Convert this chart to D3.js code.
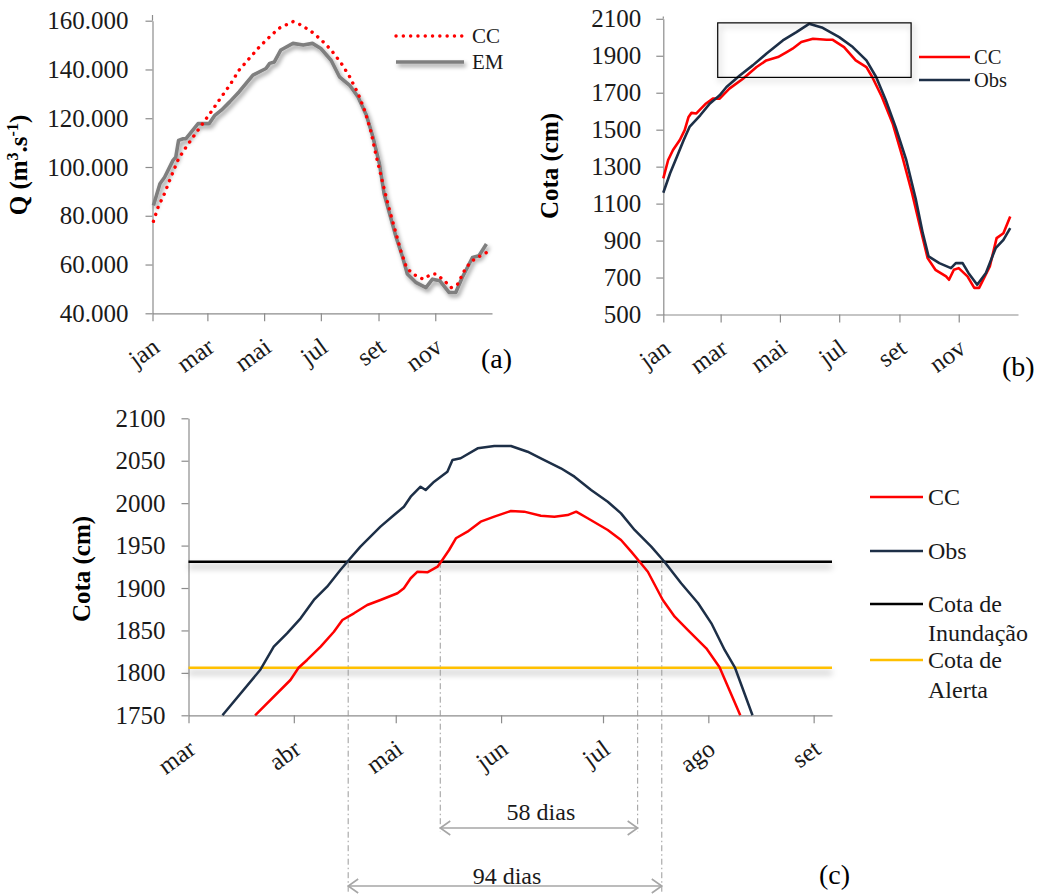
<!DOCTYPE html>
<html><head><meta charset="utf-8">
<script src="https://cdn.jsdelivr.net/npm/d3@7"></script>
<style>
body{margin:0;background:#fff}
svg{display:block}
text{font-family:"Liberation Serif","Times New Roman",serif}
</style></head>
<body><svg id="c" width="1049" height="896"></svg>
<script>
// ---------- DATA ----------
// Panel (a): vazão (m3/s), x = dia do ano
const monthsA = ["jan","mar","mai","jul","set","nov"];
const monthDaysA = [0,59,120,181,243,304];
const ticksA = [40000,60000,80000,100000,120000,140000,160000];
const ccA_day = [1,6,13,19,28,36,45,54,63,74,83,93,104,115,126,136,151,160,171,181,192,203,212,221,228,235,240,246,253,260,267,273,280,291,300,305,314,321,328,337,346,359];
const ccA_q = [77700,83500,89200,95100,103400,108100,113000,117800,122600,128700,133500,139700,144500,149300,153400,156900,159600,158200,155500,152300,148000,142500,137000,130100,123300,114300,105400,95800,84900,75200,65600,58800,56100,54000,56100,56100,53300,50500,51900,58800,62200,64900];
const emA_day = [1,8,13,22,25,28,33,36,49,61,67,74,83,93,108,122,126,131,138,151,162,172,181,192,201,212,221,230,237,244,249,255,262,269,274,283,294,301,309,319,326,333,344,351,359];
const emA_q = [84200,93100,95800,102700,104000,110900,111600,111600,117800,117800,121200,123300,126700,130800,137700,140400,142500,143100,148000,150700,150000,150700,148600,143800,137000,133500,128700,121200,112300,101300,89000,80700,71100,62900,56100,52700,50500,54000,53300,48500,48500,54700,62900,63600,68400];

// Panel (b): cota (cm)
const ticksB = [500,700,900,1100,1300,1500,1700,1900,2100];
const obsB_day = [0,7,14,21,27,38,48,58,65,79,92,106,123,137,150,164,181,195,209,219,229,239,250,260,267,273,284,296,301,308,314,323,332,342,350,357];
const obsB_cota = [1159,1264,1354,1444,1515,1578,1642,1686,1731,1794,1848,1911,1983,2028,2073,2051,2001,1947,1875,1785,1659,1515,1336,1120,940,814,778,751,778,778,725,661,725,859,904,967];
const ccB_day = [0,5,10,17,22,26,29,34,44,51,58,68,82,96,106,118,127,133,142,154,168,174,186,198,209,215,225,236,246,256,265,272,280,291,294,299,304,313,320,325,336,343,350,357];
const ccB_cota = [1237,1336,1390,1444,1498,1569,1591,1588,1642,1668,1668,1722,1776,1839,1875,1893,1920,1938,1974,1992,1987,1987,1947,1875,1839,1785,1677,1534,1354,1156,958,805,742,706,688,742,751,706,644,644,760,913,940,1030];
const zoomBox = {d0:56, d1:255, c0:1783, c1:2078};

// Panel (c): zoom mar-set
const monthsC = ["mar","abr","mai","jun","jul","ago","set"];
const monthDaysC = [59,90,120,151,181,212,243];
const ticksC = [1750,1800,1850,1900,1950,2000,2050,2100];
const obsC_day = [69,80.2,84.1,88,92,95.9,99.8,103.7,106.2,109.6,115.5,119.5,122.4,124.4,127.3,128.8,131.3,135.2,136.7,139.1,144.1,149,153.9,158.8,162.7,168.6,172.6,177.5,182.4,186.3,190.3,195.2,198.9,204,209,212.9,216.8,219.8,225];
const obsC_cota = [1750,1804,1831,1846.6,1864.3,1885.9,1901.6,1921.2,1933,1948.7,1972.3,1986,1995.8,2007.6,2019.4,2015.5,2025.3,2037.1,2050.9,2052.9,2064.6,2067.4,2067.4,2060.6,2052.9,2041.1,2031.2,2015.5,2001.7,1988,1968.4,1948.7,1931.8,1905.6,1882,1858.4,1827,1806.6,1750];
const ccC_day = [78.6,89,91.4,93.9,97.9,101.8,104.3,107.7,111.6,115.5,120.5,122.4,124.4,126.4,129.3,132.3,133.7,135.7,137.7,141.1,145,149,153.9,157.8,162.7,166.7,170.6,173.1,176.5,182.4,186.3,189.3,191.6,194.2,198.6,202.1,206,211.4,215.3,221.4];
const ccC_cota = [1750,1791.6,1806,1815.2,1830.9,1848.5,1862.3,1870.2,1880,1885.9,1893.8,1899.7,1911.5,1919.2,1918.5,1925.1,1933,1944.8,1958.6,1966.4,1978.2,1984.1,1990.8,1990,1985.2,1984.1,1986,1990,1982.2,1968.4,1956.6,1942.8,1931.8,1919.2,1885.9,1866.2,1850.5,1829,1806.6,1750];
const cotaInundacao = 1931;
const cotaAlerta = 1806;
const crossObs = [106, 198.3];
const crossCC = [133.1, 191.2];
const spanLabels = ["58 dias","94 dias"];
const legendC = [["CC"],["Obs"],["Cota de","Inundação"],["Cota de","Alerta"]];

// ---------- STYLE ----------
const RED="#ff0000", NAVY="#1d2f47", GRAY="#7f7f7f", AX="#8c8c8c", TXT="#1a1a1a", ORANGE="#ffc000";
const FONT = "Liberation Serif, Times New Roman, serif";
const svg = d3.select("#c");
const defs = svg.append("defs");
function shadow(id, dx, dy, sd, op){
  const f = defs.append("filter").attr("id",id).attr("filterUnits","userSpaceOnUse")
    .attr("x",0).attr("y",0).attr("width",1049).attr("height",896);
  f.append("feDropShadow").attr("dx",dx).attr("dy",dy).attr("stdDeviation",sd)
    .attr("flood-color","#000").attr("flood-opacity",op);
}
shadow("shLine",2,3,2,0.4);
shadow("shH",0,5,3,0.35);
shadow("shBox",2,3,3,0.35);

const fmtPT = d3.formatLocale({decimal:",",thousands:".",grouping:[3],currency:["R$",""]}).format(",.0f");

function styleAxis(g){
  g.attr("font-family",FONT).attr("font-size",25);
  g.select(".domain").attr("stroke",AX).attr("stroke-width",1.2);
  g.selectAll(".tick line").attr("stroke",AX).attr("stroke-width",1.2);
  g.selectAll("text").attr("fill",TXT);
}
function monthAxis(g, scale, days, labels, y){
  const ax = d3.axisBottom(scale).tickValues(days).tickFormat((d,i)=>labels[i]).tickSize(8).tickSizeOuter(0);
  const gg = g.append("g").attr("transform",`translate(0,${y})`).call(ax);
  styleAxis(gg);
  gg.selectAll("text").attr("x",0).attr("y",0).attr("dy","0.35em")
    .attr("text-anchor","end").attr("transform","translate(3,30) rotate(-36)");
  return gg;
}
function yAxis(g, scale, ticks, x, pad, fmt, top){
  const ax = d3.axisLeft(scale).tickValues(ticks).tickSize(7).tickPadding(pad).tickSizeOuter(0);
  if (fmt) ax.tickFormat(fmt); else ax.tickFormat(d3.format("d"));
  const gg = g.append("g").attr("transform",`translate(${x},0)`).call(ax);
  styleAxis(gg);
  if (top !== undefined) {
    const r = scale.range();
    gg.append("line").attr("x1",0).attr("x2",0).attr("y1",r[1]).attr("y2",top).attr("stroke",AX).attr("stroke-width",1.2);
  }
  return gg;
}
function yTitle(x, y, build){
  const t = svg.append("text").attr("transform",`translate(${x},${y}) rotate(-90)`)
    .attr("text-anchor","middle").attr("font-weight","bold").attr("font-size",25).attr("fill","#000");
  build(t);
}

// ---------- PANEL (a) ----------
const xA = d3.scaleLinear().domain([0,365]).range([152.5,492]);
const yA = d3.scaleLinear().domain([40000,160000]).range([313.3,20.7]);
const gA = svg.append("g");
yAxis(gA, yA, ticksA, 152.5, 17, fmtPT, 15);
monthAxis(gA, xA, monthDaysA, monthsA, 313.3);
const lineA = d3.line().x(d=>xA(d[0])).y(d=>yA(d[1]));
gA.append("path").datum(d3.zip(emA_day,emA_q)).attr("d",lineA).attr("fill","none")
  .attr("stroke",GRAY).attr("stroke-width",3.6).attr("stroke-linejoin","round").attr("filter","url(#shLine)");
gA.append("path").datum(d3.zip(ccA_day,ccA_q)).attr("d",lineA).attr("fill","none")
  .attr("stroke",RED).attr("stroke-width",3.4).attr("stroke-linecap","round").attr("stroke-dasharray","0.1 7.2");
yTitle(27,165,t=>{
  t.append("tspan").text("Q (m");
  t.append("tspan").attr("font-size",16).attr("dy",-9).text("3");
  t.append("tspan").attr("dy",9).text(".s");
  t.append("tspan").attr("font-size",16).attr("dy",-9).text("-1");
  t.append("tspan").attr("dy",9).text(")");
});
// legend (a)
gA.append("line").attr("x1",396).attr("x2",464).attr("y1",36).attr("y2",36)
  .attr("stroke",RED).attr("stroke-width",3.4).attr("stroke-linecap","round").attr("stroke-dasharray","0.1 7.2");
gA.append("line").attr("x1",396).attr("x2",464).attr("y1",62).attr("y2",62)
  .attr("stroke",GRAY).attr("stroke-width",3.6).attr("filter","url(#shLine)");
gA.append("text").attr("x",472).attr("y",36).attr("dy","0.35em").attr("font-size",21).attr("fill",TXT).text("CC");
gA.append("text").attr("x",472).attr("y",62).attr("dy","0.35em").attr("font-size",21).attr("fill",TXT).text("EM");
svg.append("text").attr("x",481).attr("y",368).attr("font-size",28).attr("fill","#000").text("(a)");

// ---------- PANEL (b) ----------
const xB = d3.scaleLinear().domain([0,365]).range([663.3,1018]);
const yB = d3.scaleLinear().domain([500,2100]).range([314.5,18.8]);
const gB = svg.append("g");
yAxis(gB, yB, ticksB, 663.3, 15, null, 16.5);
monthAxis(gB, xB, monthDaysA, monthsA, 314.5);
const lineB = d3.line().x(d=>xB(d[0])).y(d=>yB(d[1]));
gB.append("path").datum(d3.zip(ccB_day,ccB_cota)).attr("d",lineB).attr("fill","none")
  .attr("stroke",RED).attr("stroke-width",2.6).attr("stroke-linejoin","round");
gB.append("path").datum(d3.zip(obsB_day,obsB_cota)).attr("d",lineB).attr("fill","none")
  .attr("stroke",NAVY).attr("stroke-width",2.6).attr("stroke-linejoin","round");
gB.append("rect").attr("x",xB(zoomBox.d0)).attr("y",yB(zoomBox.c1))
  .attr("width",xB(zoomBox.d1)-xB(zoomBox.d0)).attr("height",yB(zoomBox.c0)-yB(zoomBox.c1))
  .attr("fill","none").attr("stroke","#000").attr("stroke-width",1.2).attr("filter","url(#shBox)");
yTitle(558,166,t=>t.text("Cota (cm)"));
[[RED,"CC",57],[NAVY,"Obs",80]].forEach(([c,l,y])=>{
  gB.append("line").attr("x1",919).attr("x2",970).attr("y1",y).attr("y2",y).attr("stroke",c).attr("stroke-width",2.6);
  gB.append("text").attr("x",974).attr("y",y).attr("dy","0.35em").attr("font-size",20.5).attr("fill",TXT).text(l);
});
svg.append("text").attr("x",1002).attr("y",376).attr("font-size",28).attr("fill","#000").text("(b)");

// ---------- PANEL (c) ----------
const xC = d3.scaleLinear().domain([59,248.4]).range([188.5,832]);
const yC = d3.scaleLinear().domain([1750,2100]).range([715.3,418.3]);
const gC = svg.append("g");
yAxis(gC, yC, ticksC, 188.5, 16);
monthAxis(gC, xC, monthDaysC, monthsC, 715.3);
yTitle(90,569,t=>t.text("Cota (cm)"));
// threshold lines with shadow
[[cotaInundacao,"#000"],[cotaAlerta,ORANGE]].forEach(([v,c])=>{
  gC.append("line").attr("x1",xC(59)).attr("x2",832).attr("y1",yC(v)).attr("y2",yC(v))
    .attr("stroke",c).attr("stroke-width",2.4).attr("filter","url(#shH)");
});
// guides
const guideCol = "#9a9a9a";
const spans = [[crossCC,832,828,spanLabels[0],820],[crossObs,892,886,spanLabels[1],884]];
spans.forEach(([cr,yEnd,yArr,lab,yLab])=>{
  cr.forEach(d=>{
    gC.append("line").attr("x1",xC(d)).attr("x2",xC(d)).attr("y1",yC(cotaInundacao)).attr("y2",yEnd)
      .attr("stroke",guideCol).attr("stroke-width",1).attr("stroke-dasharray","6 3 1.5 3");
  });
  const x1 = xC(cr[0]), x2 = xC(cr[1]);
  gC.append("line").attr("x1",x1).attr("x2",x2).attr("y1",yArr).attr("y2",yArr).attr("stroke","#a6a6a6").attr("stroke-width",1.6);
  gC.append("path").attr("d",`M${x1+10},${yArr-7}L${x1},${yArr}L${x1+10},${yArr+7}M${x2-10},${yArr-7}L${x2},${yArr}L${x2-10},${yArr+7}`)
    .attr("fill","none").attr("stroke","#a6a6a6").attr("stroke-width",1.6);
  gC.append("text").attr("x",(x1+x2)/2+2).attr("y",yLab).attr("text-anchor","middle").attr("font-size",24).attr("fill",TXT).text(lab);
});
const lineC = d3.line().x(d=>xC(d[0])).y(d=>yC(d[1]));
gC.append("path").datum(d3.zip(ccC_day,ccC_cota)).attr("d",lineC).attr("fill","none")
  .attr("stroke",RED).attr("stroke-width",2.5).attr("stroke-linejoin","round");
gC.append("path").datum(d3.zip(obsC_day,obsC_cota)).attr("d",lineC).attr("fill","none")
  .attr("stroke",NAVY).attr("stroke-width",2.5).attr("stroke-linejoin","round");
// legend (c)
const legCols = [RED,NAVY,"#000",ORANGE];
const legY = [497,551,604,660];
const legSpacing = [0,0,29,30];
legendC.forEach((lines,i)=>{
  gC.append("line").attr("x1",870).attr("x2",923).attr("y1",legY[i]).attr("y2",legY[i]).attr("stroke",legCols[i]).attr("stroke-width",2.5);
  const t = gC.append("text").attr("x",928).attr("y",legY[i]).attr("font-size",24).attr("fill",TXT);
  lines.forEach((l,j)=>t.append("tspan").attr("x",928).attr("dy",j===0?"0.35em":legSpacing[i]).text(l));
});
svg.append("text").attr("x",819).attr("y",884).attr("font-size",28).attr("fill","#000").text("(c)");
</script></body></html>
